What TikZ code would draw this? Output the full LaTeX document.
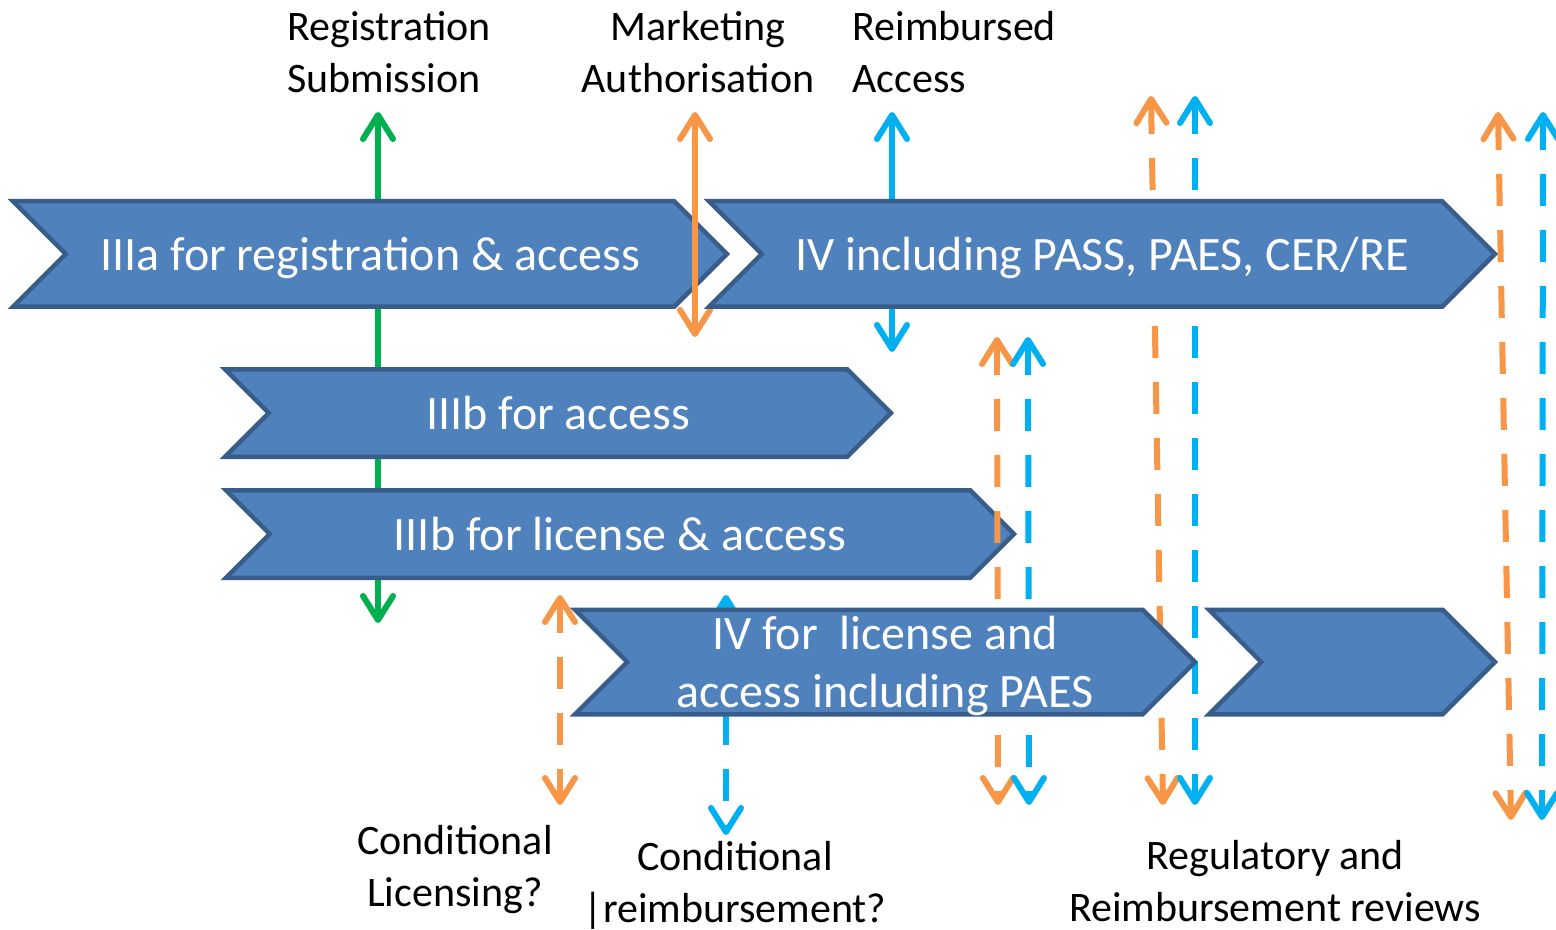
\documentclass[tikz,border=0pt]{standalone}
\usepackage{fontspec}
\setmainfont{Carlito}
\usetikzlibrary{shapes.symbols,arrows.meta}
\definecolor{phasefill}{HTML}{4F81BD}
\definecolor{phaseline}{HTML}{385D8A}
\definecolor{regGreen}{HTML}{00B050}
\definecolor{licOrange}{HTML}{F79646}
\definecolor{reimbBlue}{HTML}{00B0F0}

\begin{document}
\begin{tikzpicture}[x=0.5pt,y=-0.5pt]
    \tikzstyle{phase}=[signal, signal to=east, signal from=west, signal pointer angle=90,
        draw=phaseline, line width=2.25pt, fill=phasefill, text=white, inner sep=0pt,
        font=\fontsize{24}{29}\selectfont, align=center, text depth=0pt, minimum height=52.75pt];
    \tikzstyle{milestone}=[font=\fontsize{21}{26}\selectfont, align=center, inner sep=0pt];
    \tikzstyle{solidarr}=[line width=3pt,
        {Straight Barb[length=12pt,width=15pt,round]}-{Straight Barb[length=12pt,width=15pt,round]}];
    \tikzstyle{dasharr}=[solidarr, dash pattern=on 16pt off 12pt];
    \useasboundingbox (0,0) rectangle (1556,930);

    % milestones
    \node[milestone, align=left, anchor=base west] (regsub) at (287,93) {Registration\\Submission};
    \node[milestone, anchor=base] (mktauth) at (698,93) {Marketing\\Authorisation};
    \node[milestone, align=left, anchor=base west] (reimacc) at (852,93) {Reimbursed\\Access};
    \node[milestone, anchor=base] (condlic) at (455,906) {Conditional\\Licensing?};
    \node[milestone, anchor=base] (condreim) at (735,922) {Conditional\\|reimbursement?};
    \node[milestone, anchor=base] (reviews) at (1275,921) {Regulatory and\\Reimbursement reviews};

    % arrow ends
    \coordinate (regT) at (378,112);   \coordinate (regB) at (378,623);
    \coordinate (maT) at (695,112);    \coordinate (maB) at (695,337);
    \coordinate (raT) at (892,112);    \coordinate (raB) at (892,352);
    \coordinate (clT) at (560,595);    \coordinate (clB) at (560,805);
    \coordinate (crT) at (726,595);    \coordinate (crB) at (726,835);
    \coordinate (rvaoT) at (997,337);  \coordinate (rvaoB) at (998,805);
    \coordinate (rvabT) at (1028,337); \coordinate (rvabB) at (1029,805);
    \coordinate (rvboT) at (1151,96);  \coordinate (rvboB) at (1163,805);
    \coordinate (rvbbT) at (1195,96);  \coordinate (rvbbB) at (1195,805);
    \coordinate (rvcoT) at (1498,112); \coordinate (rvcoB) at (1511,820);
    \coordinate (rvcbT) at (1543,112); \coordinate (rvcbB) at (1542,820);

    % connectors behind the phases
    \draw[solidarr, regGreen] (regT) -- (regB);
    \draw[solidarr, reimbBlue] (raT) -- (raB);
    \draw[dasharr, licOrange] (clT) -- (clB);
    \draw[dasharr, reimbBlue] (crT) -- (crB);
    \draw[dasharr, licOrange] (rvboT) -- (rvboB);
    \draw[dasharr, reimbBlue] (rvbbT) -- (rvbbB);
    \draw[dasharr, licOrange] (rvcoT) -- (rvcoB);
    \draw[dasharr, reimbBlue] (rvcbT) -- (rvcbB);

    % phases
    \node[phase, minimum width=357pt] (p3a) at (370,254) {IIIa for registration \& access};
    \draw[solidarr, licOrange] (maT) -- (maB);
    \node[phase, minimum width=393pt] (p4) at (1102,254) {IV including PASS, PAES, CER/RE};
    \node[phase, minimum width=333pt, minimum height=43.75pt] (p3bacc) at (558,413) {IIIb for access};
    \node[phase, minimum width=394pt, minimum height=43.75pt] (p3blic) at (620,534) {IIIb for license \& access};
    \draw[dasharr, licOrange] (rvaoT) -- (rvaoB);
    \draw[dasharr, reimbBlue] (rvabT) -- (rvabB);
    \node[phase, minimum width=310pt, minimum height=52.25pt] (p4lic) at (885,662) {IV for\ \ license and\\access including PAES};
    \node[phase, minimum width=143pt, minimum height=52.25pt] (p4next) at (1352,662) {};
\end{tikzpicture}
\end{document}
